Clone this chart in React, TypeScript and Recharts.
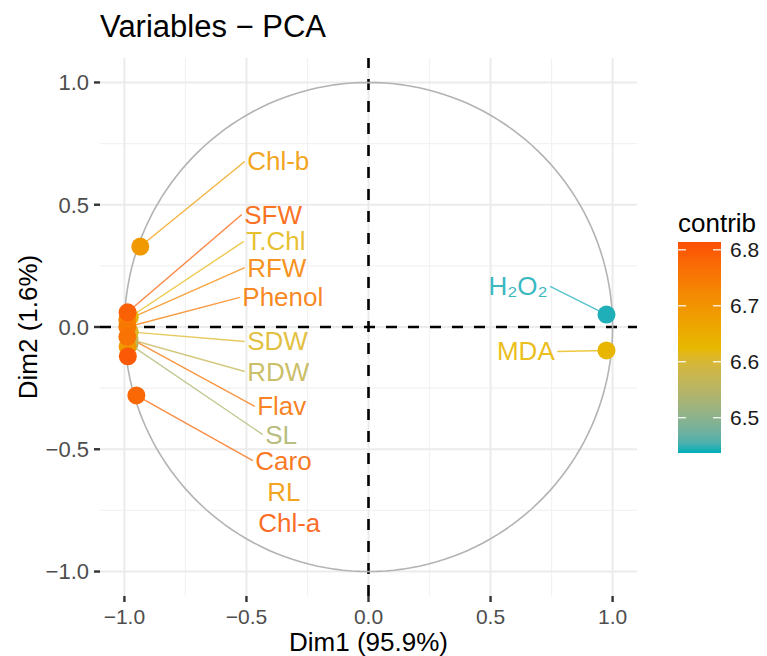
import { ScatterChart, Scatter, XAxis, YAxis, ReferenceLine } from "recharts";

// PCA variable coordinates
const variables = ["Chl-b", "SFW", "T.Chl", "RFW", "Phenol", "SDW", "RDW", "Flav", "SL", "Caro", "RL", "Chl-a", "H₂O₂", "MDA"];
const dim1 = [-0.935, -0.987, -0.978, -0.988, -0.988, -0.978, -0.979, -0.988, -0.979, -0.951, -0.987, -0.986, 0.975, 0.975];
const dim2 = [0.329, 0.06, 0.04, 0.03, 0.0, -0.02, -0.05, -0.04, -0.07, -0.28, -0.08, -0.12, 0.051, -0.096];
const contrib = [6.69, 6.79, 6.62, 6.73, 6.75, 6.61, 6.57, 6.76, 6.54, 6.78, 6.69, 6.8, 6.44, 6.63];

// repelled label positions
const labelX = [-0.497, -0.509, -0.501, -0.497, -0.517, -0.497, -0.497, -0.456, -0.423, -0.464, -0.415, -0.452, 0.734, 0.763];
const labelY = [0.677, 0.46, 0.35, 0.243, 0.121, -0.059, -0.182, -0.325, -0.44, -0.546, -0.673, -0.8, 0.166, -0.1];
const labelSide = ["start", "start", "start", "start", "start", "start", "start", "start", "start", "start", "start", "start", "end", "end"];
const hasSegment = [true, true, true, true, true, true, true, true, true, true, false, false, true, true];

const axisTicks = [-1, -0.5, 0, 0.5, 1];
const minorTicks = [-0.75, -0.25, 0.25, 0.75];
const gradientCols = ["#00AFBB", "#E7B800", "#FC4E07"];
const contribLimits = [6.437, 6.814];
const legendTicks = [6.5, 6.6, 6.7, 6.8];

const FONT = "'Liberation Sans', Arial, Helvetica, sans-serif";

// --- colour scale (interpolated in Lab like ggplot) ---
function hexToRgb(h: string) {
  return [1, 3, 5].map((i) => parseInt(h.slice(i, i + 2), 16));
}
function toLin(c: number) {
  c = c / 255;
  return c <= 0.04045 ? c / 12.92 : Math.pow((c + 0.055) / 1.055, 2.4);
}
function fromLin(c: number) {
  const v = c <= 0.0031308 ? 12.92 * c : 1.055 * Math.pow(c, 1 / 2.4) - 0.055;
  return Math.round(Math.max(0, Math.min(1, v)) * 255);
}
const WX = 0.95047, WZ = 1.08883;
function rgbToLab(rgb: number[]) {
  const [r, g, b] = rgb.map(toLin);
  const X = (0.4124 * r + 0.3576 * g + 0.1805 * b) / WX;
  const Y = 0.2126 * r + 0.7152 * g + 0.0722 * b;
  const Z = (0.0193 * r + 0.1192 * g + 0.9505 * b) / WZ;
  const f = (t: number) => (t > 0.008856 ? Math.cbrt(t) : 7.787 * t + 16 / 116);
  return [116 * f(Y) - 16, 500 * (f(X) - f(Y)), 200 * (f(Y) - f(Z))];
}
function labToHex(lab: number[]) {
  const [L, a, bb] = lab;
  const fy = (L + 16) / 116, fx = fy + a / 500, fz = fy - bb / 200;
  const inv = (t: number) => (t ** 3 > 0.008856 ? t ** 3 : (t - 16 / 116) / 7.787);
  const X = inv(fx) * WX, Y = inv(fy), Z = inv(fz) * WZ;
  const r = 3.2406 * X - 1.5372 * Y - 0.4986 * Z;
  const g = -0.9689 * X + 1.8758 * Y + 0.0415 * Z;
  const b = 0.0557 * X - 0.204 * Y + 1.057 * Z;
  return "#" + [r, g, b].map((c) => fromLin(c).toString(16).padStart(2, "0")).join("");
}
const gradLabs = gradientCols.map((c) => rgbToLab(hexToRgb(c)));
function contribColor(v: number) {
  const t = Math.max(0, Math.min(1, (v - contribLimits[0]) / (contribLimits[1] - contribLimits[0])));
  const seg = t * (gradLabs.length - 1);
  const i = Math.min(Math.floor(seg), gradLabs.length - 2);
  const f = seg - i;
  return labToHex(gradLabs[i].map((c, k) => c + (gradLabs[i + 1][k] - c) * f));
}

const fmt = (v: number) => v.toFixed(1).replace("-", "\u2212");

function ColorBar() {
  const top = 234, h = 211, w = 43;
  const yOf = (v: number) => top + ((contribLimits[1] - v) / (contribLimits[1] - contribLimits[0])) * h;
  const stops = Array.from({ length: 21 }, (_, i) => i / 20);
  return (
    <svg width={100} height={480} style={{ position: "absolute", left: 665, top: 0 }}>
      <defs>
        <linearGradient id="cbar" x1="0" y1="1" x2="0" y2="0">
          {stops.map((s) => (
            <stop key={s} offset={s} stopColor={contribColor(contribLimits[0] + s * (contribLimits[1] - contribLimits[0]))} />
          ))}
        </linearGradient>
      </defs>
      <text x={5} y={215} dominantBaseline="central" fontSize={26} fontFamily={FONT} fill="#000">contrib</text>
      <rect x={5} y={top} width={w} height={h} fill="url(#cbar)" />
      {legendTicks.map((t) => (
        <g key={t}>
          <line x1={5} x2={13} y1={yOf(t)} y2={yOf(t)} stroke="#fff" strokeWidth={1.2} />
          <line x1={5 + w - 8} x2={5 + w} y1={yOf(t)} y2={yOf(t)} stroke="#fff" strokeWidth={1.2} />
          <text x={57} y={yOf(t)} dominantBaseline="central" fontSize={21} fontFamily={FONT} fill="#1A1A1A">{t.toFixed(1)}</text>
        </g>
      ))}
    </svg>
  );
}

export default function App() {
  const points = variables
    .map((name, i) => ({ name, x: dim1[i], y: dim2[i], c: contrib[i], color: contribColor(contrib[i]) }))
    .sort((a, b) => a.c - b.c);
  const labels = variables.map((name, i) => ({ name, x: labelX[i], y: labelY[i], side: labelSide[i], color: contribColor(contrib[i]) }));
  // correlation circle of radius 1
  const circle = Array.from({ length: 181 }, (_, i) => {
    const a = (i / 180) * 2 * Math.PI;
    return { x: Math.cos(a), y: Math.sin(a) };
  });

  return (
    <div style={{ position: "relative", width: 759, height: 648, fontFamily: FONT }}>
      <div style={{ position: "absolute", left: 92, top: 1, fontSize: 31, color: "#000", whiteSpace: "nowrap" }}>Variables − PCA</div>
      <ScatterChart width={759} height={648} margin={{ top: 50, right: 130, bottom: 0, left: 0 }} style={{ fontFamily: FONT }}>
        <XAxis
          type="number"
          dataKey="x"
          domain={[-1.1, 1.1]}
          ticks={axisTicks}
          tickFormatter={fmt}
          height={60}
          axisLine={false}
          tickSize={6}
          tickMargin={7}
          tickLine={{ stroke: "#333", strokeWidth: 2.4 }}
          tick={{ fill: "#4D4D4D", fontSize: 21 }}
          allowDataOverflow
          label={{
            content: (p: any) => (
              <text x={p.viewBox.x + p.viewBox.width / 2} y={p.viewBox.y + 46} textAnchor="middle" dominantBaseline="central" fontSize={26} fill="#000">
                Dim1 (95.9%)
              </text>
            ),
          }}
        />
        <YAxis
          type="number"
          dataKey="y"
          domain={[-1.1, 1.1]}
          ticks={axisTicks}
          tickFormatter={fmt}
          width={92}
          axisLine={false}
          tickSize={6}
          tickMargin={5}
          tickLine={{ stroke: "#333", strokeWidth: 2.4 }}
          tick={{ fill: "#4D4D4D", fontSize: 22 }}
          allowDataOverflow
          label={{
            content: (p: any) => {
              const cx = p.viewBox.x + 20;
              const cy = p.viewBox.y + p.viewBox.height / 2;
              return (
                <text x={cx} y={cy} transform={`rotate(-90 ${cx} ${cy})`} textAnchor="middle" dominantBaseline="central" fontSize={26} fill="#000">
                  Dim2 (1.6%)
                </text>
              );
            },
          }}
        />
        {minorTicks.map((v) => (
          <ReferenceLine key={"mx" + v} x={v} stroke="#F2F2F2" strokeWidth={1.2} />
        ))}
        {minorTicks.map((v) => (
          <ReferenceLine key={"my" + v} y={v} stroke="#F2F2F2" strokeWidth={1.2} />
        ))}
        {axisTicks.map((v) => (
          <ReferenceLine key={"gx" + v} x={v} stroke="#EBEBEB" strokeWidth={2} />
        ))}
        {axisTicks.map((v) => (
          <ReferenceLine key={"gy" + v} y={v} stroke="#EBEBEB" strokeWidth={2} />
        ))}
        <Scatter data={circle} line={{ stroke: "#B3B3B3", strokeWidth: 1.6 }} lineType="joint" shape={() => <g />} isAnimationActive={false} />
        {variables.map((name, i) =>
          hasSegment[i] ? (
            <ReferenceLine
              key={"s" + name}
              segment={[
                { x: dim1[i], y: dim2[i] },
                { x: labelX[i] + (labelSide[i] === "end" ? 0.01 : -0.01), y: labelY[i] },
              ]}
              stroke={contribColor(contrib[i])}
              strokeOpacity={0.75}
              strokeWidth={1.4}
            />
          ) : null
        )}
        <Scatter
          data={points}
          isAnimationActive={false}
          shape={(p: any) => <circle cx={p.cx} cy={p.cy} r={9} fill={p.payload?.color ?? p.color} />}
        />
        <ReferenceLine x={0} stroke="#000" strokeWidth={2.6} strokeDasharray="11 11" />
        <ReferenceLine y={0} stroke="#000" strokeWidth={2.6} strokeDasharray="11 11" />
        <Scatter
          data={labels}
          isAnimationActive={false}
          shape={(p: any) => {
            const d = p.payload ?? p;
            return (
              <text x={p.cx} y={p.cy} textAnchor={d.side} dominantBaseline="central" fontSize={26} fill={d.color} fillOpacity={0.9} fontFamily={FONT}>
                {d.name}
              </text>
            );
          }}
        />
      </ScatterChart>
      <ColorBar />
    </div>
  );
}
